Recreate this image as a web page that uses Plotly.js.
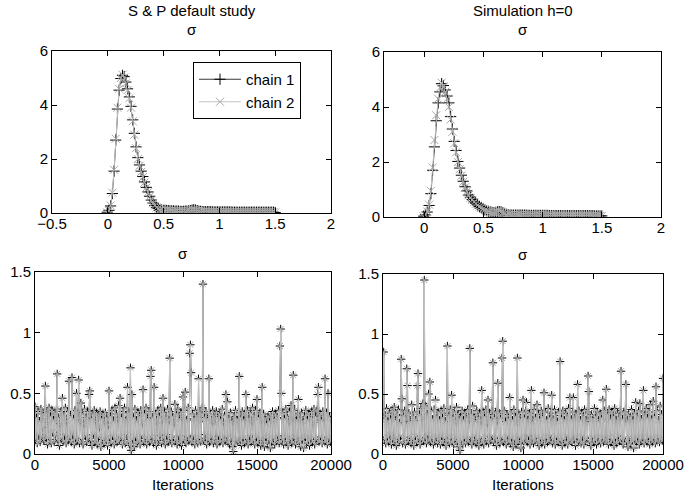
<!DOCTYPE html>
<html>
<head>
<meta charset="utf-8">
<script src="https://cdn.plot.ly/plotly-3.0.1.min.js"></script>
<style>html,body{margin:0;padding:0;background:#fff}#chart{width:684px;height:498px}</style>
</head>
<body>
<div id="chart"></div>
<script>
// ---------- data ----------
const panelTitles = ["S & P default study", "Simulation h=0"];
const paramName = "σ";
const chainNames = ["chain 1", "chain 2"];
const xAxisLabel = "Iterations";

// kernel density evaluation grid (σ values)
const densityGrid = [
 -0.005,0.010,0.025,0.041,0.056,0.071,0.086,0.101,0.117,0.132,
 0.147,0.162,0.177,0.193,0.208,0.223,0.238,0.253,0.269,0.284,
 0.299,0.314,0.329,0.345,0.360,0.375,0.390,0.405,0.421,0.436,
 0.451,0.466,0.481,0.497,0.512,0.527,0.542,0.557,0.573,0.588,
 0.603,0.618,0.633,0.649,0.664,0.679,0.694,0.709,0.725,0.740,
 0.755,0.770,0.785,0.801,0.816,0.831,0.846,0.861,0.877,0.892,
 0.907,0.922,0.937,0.953,0.968,0.983,0.998,1.013,1.029,1.044,
 1.059,1.074,1.089,1.105,1.120,1.135,1.150,1.165,1.181,1.196,
 1.211,1.226,1.241,1.257,1.272,1.287,1.302,1.317,1.333,1.348,
 1.363,1.378,1.393,1.409,1.424,1.439,1.454,1.469,1.485,1.500
];

const spDensityChain1 = [
 0.03,0.10,0.26,0.72,1.55,2.70,3.85,4.55,4.98,5.10,
 5.05,4.85,4.60,4.30,3.95,3.45,2.95,2.45,2.05,1.78,
 1.55,1.35,1.15,0.95,0.78,0.62,0.48,0.37,0.28,0.21,
 0.16,0.13,0.11,0.10,0.10,0.09,0.09,0.08,0.08,0.08,
 0.07,0.07,0.07,0.06,0.06,0.06,0.07,0.07,0.08,0.09,
 0.11,0.12,0.11,0.09,0.07,0.06,0.05,0.05,0.05,0.05,
 0.05,0.05,0.04,0.04,0.04,0.04,0.04,0.04,0.04,0.04,
 0.04,0.04,0.04,0.04,0.03,0.03,0.03,0.03,0.03,0.03,
 0.03,0.03,0.03,0.03,0.03,0.03,0.03,0.03,0.03,0.03,
 0.03,0.03,0.03,0.03,0.03,0.03,0.03,0.03,0.03,0.02
];
const spDensityChain2 = [
 0.02,0.09,0.28,0.75,1.60,2.75,3.90,4.60,5.00,5.12,
 5.02,4.80,4.55,4.25,3.90,3.40,2.90,2.40,2.00,1.75,
 1.52,1.33,1.13,0.94,0.77,0.61,0.47,0.36,0.27,0.20,
 0.15,0.12,0.11,0.10,0.09,0.09,0.08,0.08,0.08,0.07,
 0.07,0.07,0.06,0.06,0.06,0.06,0.06,0.07,0.08,0.09,
 0.10,0.11,0.10,0.08,0.07,0.06,0.05,0.05,0.05,0.04,
 0.04,0.04,0.04,0.04,0.04,0.04,0.04,0.04,0.04,0.04,
 0.04,0.04,0.04,0.03,0.03,0.03,0.03,0.03,0.03,0.03,
 0.03,0.03,0.03,0.03,0.03,0.03,0.03,0.03,0.03,0.03,
 0.03,0.03,0.03,0.03,0.03,0.03,0.03,0.03,0.03,0.02
];
const simDensityChain1 = [
 0.03,0.08,0.18,0.42,0.85,1.70,2.55,3.50,4.15,4.55,
 4.85,4.78,4.62,4.40,4.15,3.65,3.20,2.75,2.42,2.02,
 1.78,1.52,1.30,1.10,0.95,0.80,0.72,0.64,0.55,0.50,
 0.44,0.38,0.34,0.30,0.26,0.23,0.21,0.19,0.17,0.16,
 0.17,0.19,0.20,0.19,0.16,0.13,0.10,0.08,0.07,0.07,
 0.07,0.07,0.07,0.07,0.07,0.07,0.07,0.07,0.06,0.06,
 0.06,0.06,0.06,0.06,0.06,0.06,0.06,0.06,0.06,0.06,
 0.05,0.05,0.05,0.05,0.05,0.05,0.05,0.05,0.05,0.05,
 0.05,0.05,0.05,0.05,0.05,0.05,0.05,0.05,0.05,0.05,
 0.05,0.05,0.05,0.05,0.05,0.04,0.04,0.04,0.04,0.04
];
const simDensityChain2 = [
 0.02,0.07,0.20,0.45,0.95,1.80,2.80,3.70,4.30,4.70,
 4.88,4.75,4.55,4.30,4.00,3.55,3.10,2.68,2.35,2.00,
 1.74,1.50,1.28,1.08,0.93,0.79,0.70,0.62,0.54,0.48,
 0.42,0.37,0.33,0.29,0.25,0.22,0.20,0.18,0.17,0.17,
 0.18,0.20,0.21,0.19,0.15,0.12,0.09,0.08,0.07,0.07,
 0.07,0.07,0.07,0.07,0.07,0.07,0.06,0.06,0.06,0.06,
 0.06,0.06,0.06,0.06,0.06,0.06,0.06,0.06,0.06,0.06,
 0.06,0.05,0.05,0.05,0.05,0.05,0.05,0.05,0.05,0.05,
 0.05,0.05,0.05,0.05,0.05,0.05,0.05,0.05,0.05,0.05,
 0.05,0.05,0.05,0.05,0.04,0.04,0.04,0.04,0.04,0.04
];

// MCMC trace of σ, one value every 50 iterations (0 .. 20000)
const iterationStep = 50;
const spTraceChain1 = [
 0.39,0.12,0.30,0.09,0.35,0.16,0.27,0.10,0.37,0.14,0.22,0.33,0.11,0.29,0.56,0.13,0.34,0.08,0.26,0.38,
 0.12,0.31,0.09,0.36,0.18,0.28,0.10,0.33,0.15,0.37,0.66,0.11,0.30,0.07,0.25,0.35,0.13,0.46,0.10,0.32,
 0.16,0.38,0.09,0.27,0.35,0.12,0.60,0.14,0.31,0.10,0.63,0.17,0.29,0.08,0.36,0.13,0.50,0.11,0.34,0.61,
 0.09,0.28,0.42,0.12,0.33,0.08,0.25,0.37,0.15,0.30,0.10,0.35,0.13,0.49,0.52,0.11,0.29,0.07,0.33,0.16,
 0.36,0.10,0.27,0.34,0.08,0.31,0.14,0.22,0.35,0.06,0.29,0.12,0.33,0.09,0.26,0.34,0.11,0.30,0.07,0.24,
 0.52,0.13,0.31,0.09,0.36,0.15,0.27,0.08,0.38,0.12,0.33,0.10,0.29,0.40,0.11,0.46,0.14,0.30,0.08,0.35,
 0.12,0.38,0.09,0.28,0.16,0.55,0.10,0.34,0.07,0.71,0.03,0.49,0.12,0.30,0.06,0.37,0.14,0.27,0.09,0.34,
 0.11,0.31,0.08,0.36,0.15,0.26,0.53,0.10,0.33,0.13,0.38,0.08,0.29,0.12,0.35,0.10,0.64,0.69,0.14,0.30,
 0.09,0.55,0.12,0.33,0.07,0.27,0.36,0.11,0.31,0.15,0.38,0.09,0.28,0.46,0.13,0.34,0.08,0.30,0.16,0.37,
 0.10,0.28,0.79,0.12,0.35,0.09,0.31,0.14,0.26,0.41,0.11,0.33,0.08,0.37,0.15,0.29,0.10,0.34,0.07,0.30,
 0.47,0.12,0.36,0.51,0.09,0.28,0.14,0.38,0.11,0.83,0.90,0.67,0.10,0.33,0.15,0.29,0.08,0.36,0.12,0.31,
 0.09,0.62,0.13,0.34,0.10,0.27,0.38,1.40,0.11,0.30,0.16,0.35,0.08,0.29,0.12,0.62,0.10,0.33,0.14,0.27,
 0.36,0.09,0.31,0.12,0.25,0.35,0.08,0.30,0.15,0.33,0.10,0.28,0.13,0.37,0.09,0.26,0.32,0.11,0.49,0.14,
 0.43,0.10,0.29,0.08,0.34,0.13,0.27,0.06,0.02,0.31,0.09,0.36,0.12,0.28,0.10,0.34,0.64,0.11,0.30,0.07,
 0.35,0.13,0.28,0.09,0.33,0.49,0.12,0.36,0.08,0.29,0.15,0.34,0.10,0.27,0.38,0.11,0.31,0.08,0.36,0.14,
 0.45,0.09,0.30,0.12,0.34,0.07,0.28,0.55,0.11,0.33,0.06,0.29,0.14,0.25,0.09,0.31,0.12,0.27,0.05,0.32,
 0.10,0.35,0.13,0.28,0.08,0.33,0.11,0.30,0.15,0.36,0.09,0.89,1.03,0.50,0.12,0.34,0.08,0.29,0.14,0.37,
 0.10,0.31,0.07,0.27,0.35,0.12,0.40,0.09,0.30,0.65,0.13,0.36,0.08,0.28,0.11,0.33,0.45,0.10,0.29,0.06,
 0.34,0.12,0.27,0.05,0.31,0.14,0.36,0.09,0.28,0.11,0.33,0.07,0.30,0.13,0.35,0.10,0.26,0.37,0.08,0.31,
 0.12,0.36,0.49,0.55,0.10,0.32,0.14,0.28,0.09,0.35,0.12,0.30,0.62,0.11,0.34,0.08,0.50,0.13,0.31,0.10,
 0.29
];
// chain 2 coincides with chain 1 in the picture (+ and × overlap at every peak)
const spTraceChain2 = spTraceChain1;

const simTraceChain1 = [
 0.35,0.85,0.12,0.30,0.09,0.38,0.14,0.27,0.10,0.34,0.16,0.29,0.08,0.36,0.12,0.31,0.39,0.11,0.28,0.07,
 0.33,0.13,0.37,0.10,0.26,0.15,0.79,0.46,0.09,0.32,0.12,0.36,0.08,0.29,0.71,0.57,0.11,0.34,0.14,0.27,
 0.09,0.41,0.12,0.31,0.07,0.35,0.15,0.28,0.10,0.57,0.67,0.13,0.33,0.08,0.38,0.12,0.30,0.42,0.11,1.45,
 0.14,0.40,0.09,0.33,0.16,0.50,0.12,0.60,0.10,0.36,0.13,0.29,0.08,0.37,0.11,0.45,0.14,0.31,0.09,0.35,
 0.12,0.28,0.08,0.36,0.15,0.30,0.10,0.38,0.13,0.27,0.07,0.34,0.90,0.11,0.32,0.09,0.37,0.14,0.49,0.10,
 0.30,0.08,0.35,0.12,0.27,0.39,0.10,0.33,0.06,0.29,0.03,0.31,0.11,0.36,0.08,0.28,0.13,0.34,0.09,0.30,
 0.12,0.37,0.10,0.29,0.88,0.14,0.33,0.08,0.40,0.11,0.31,0.15,0.27,0.09,0.36,0.12,0.30,0.07,0.34,0.13,
 0.28,0.53,0.10,0.35,0.08,0.31,0.14,0.37,0.11,0.26,0.45,0.09,0.33,0.12,0.29,0.15,0.36,0.76,0.10,0.30,
 0.13,0.35,0.07,0.28,0.59,0.11,0.34,0.09,0.30,0.14,0.80,0.94,0.10,0.36,0.12,0.27,0.08,0.33,0.15,0.29,
 0.11,0.47,0.09,0.34,0.13,0.28,0.06,0.37,0.12,0.31,0.08,0.26,0.80,0.10,0.33,0.14,0.29,0.05,0.35,0.11,
 0.45,0.09,0.30,0.13,0.36,0.43,0.10,0.28,0.15,0.34,0.08,0.31,0.53,0.12,0.27,0.09,0.37,0.11,0.30,0.14,
 0.41,0.10,0.33,0.07,0.29,0.13,0.36,0.09,0.31,0.12,0.51,0.08,0.35,0.14,0.28,0.10,0.38,0.11,0.30,0.15,
 0.34,0.49,0.09,0.29,0.12,0.37,0.08,0.32,0.14,0.27,0.10,0.35,0.13,0.77,0.11,0.30,0.07,0.36,0.12,0.28,
 0.09,0.34,0.15,0.31,0.08,0.38,0.11,0.47,0.13,0.29,0.10,0.35,0.47,0.12,0.30,0.07,0.33,0.14,0.58,0.10,
 0.36,0.12,0.28,0.09,0.34,0.15,0.31,0.08,0.37,0.11,0.27,0.13,0.35,0.65,0.52,0.10,0.30,0.07,0.33,0.14,
 0.29,0.10,0.38,0.12,0.31,0.08,0.35,0.14,0.27,0.11,0.34,0.09,0.30,0.13,0.45,0.10,0.36,0.12,0.28,0.54,
 0.11,0.33,0.08,0.37,0.14,0.29,0.10,0.35,0.12,0.31,0.07,0.38,0.13,0.27,0.09,0.34,0.15,0.30,0.11,0.36,
 0.69,0.12,0.29,0.08,0.35,0.13,0.31,0.58,0.10,0.27,0.06,0.33,0.14,0.30,0.09,0.37,0.11,0.28,0.05,0.34,
 0.12,0.43,0.10,0.31,0.14,0.36,0.08,0.42,0.11,0.29,0.13,0.35,0.53,0.09,0.32,0.12,0.38,0.10,0.30,0.14,
 0.35,0.08,0.41,0.12,0.29,0.10,0.44,0.13,0.31,0.09,0.56,0.11,0.36,0.14,0.28,0.10,0.40,0.12,0.33,0.11,
 0.63
];
const simTraceChain2 = simTraceChain1;

// ---------- styling ----------
const FONT = "Liberation Sans, Arial, Helvetica, sans-serif";
const FS = 15;
const c1Line = "#3a3a3a", c1Mark = "#000000";
const c2Line = "#c4c4c4", c2Mark = "#a8a8a8";

function chainTraces(x, y1, y2, xa, ya, legend, msize) {
  return [
    {x: x, y: y1, xaxis: xa, yaxis: ya, name: chainNames[0], showlegend: legend,
     mode: "lines+markers", line: {color: c1Line, width: 1},
     marker: {symbol: "cross-thin-open", size: msize, color: c1Mark, line: {color: c1Mark, width: 1}}},
    {x: x, y: y2, xaxis: xa, yaxis: ya, name: chainNames[1], showlegend: legend,
     mode: "lines+markers", line: {color: c2Line, width: 1},
     marker: {symbol: "x-thin-open", size: msize, color: c2Mark, line: {color: c2Mark, width: 1}}}
  ];
}
const itersSP = spTraceChain1.map((_, i) => i * iterationStep);
const itersSim = simTraceChain1.map((_, i) => i * iterationStep);

const data = [].concat(
  chainTraces(densityGrid, spDensityChain1, spDensityChain2, "x", "y", true, 8),
  chainTraces(densityGrid, simDensityChain1, simDensityChain2, "x2", "y2", false, 8),
  chainTraces(itersSP, spTraceChain1, spTraceChain2, "x3", "y3", false, 6),
  chainTraces(itersSim, simTraceChain1, simTraceChain2, "x4", "y4", false, 6)
);

const W = 684, H = 498;
const px = v => v / W, py = v => 1 - v / H;
function ax(extra) {
  return Object.assign({
    showline: true, linecolor: "#000", linewidth: 1, mirror: "ticks",
    ticks: "inside", ticklen: 5, tickcolor: "#000", tickwidth: 1,
    showgrid: false, zeroline: false, fixedrange: true,
    tickfont: {family: FONT, size: FS, color: "#000"},
    exponentformat: "none", ticklabeloverflow: "allow"
  }, extra);
}
const xs = {ticklabelstandoff: -3};

const layout = {
  width: W, height: H,
  margin: {l: 0, r: 0, t: 0, b: 0},
  paper_bgcolor: "#fff", plot_bgcolor: "#fff",
  font: {family: FONT, size: FS, color: "#000"},
  xaxis:  ax(Object.assign({domain: [px(52), px(331)], range: [-0.5, 2], dtick: 0.5, tick0: 0, anchor: "y"}, xs)),
  yaxis:  ax({domain: [py(213), py(51)], range: [0, 6], dtick: 2, tick0: 0, anchor: "x"}),
  xaxis2: ax(Object.assign({domain: [px(384), px(661)], range: [-0.34, 2], dtick: 0.5, tick0: 0, anchor: "y2"}, xs)),
  yaxis2: ax({domain: [py(217), py(52)], range: [0, 6], dtick: 2, tick0: 0, anchor: "x2"}),
  xaxis3: ax(Object.assign({domain: [px(35), px(331)], range: [0, 20000], dtick: 5000, tick0: 0, tickformat: "d", anchor: "y3"}, xs)),
  yaxis3: ax({domain: [py(454), py(272)], range: [0, 1.5], dtick: 0.5, tick0: 0, anchor: "x3"}),
  xaxis4: ax(Object.assign({domain: [px(383), px(663)], range: [0, 20000], dtick: 5000, tick0: 0, tickformat: "d", anchor: "y4"}, xs)),
  yaxis4: ax({domain: [py(454), py(274)], range: [0, 1.5], dtick: 0.5, tick0: 0, anchor: "x4"}),
  showlegend: true,
  legend: {x: px(193), y: py(62), xanchor: "left", yanchor: "top",
           bgcolor: "#fff", bordercolor: "#000", borderwidth: 1, itemwidth: 42,
           font: {family: FONT, size: FS, color: "#000"}, tracegroupgap: 0},
  annotations: [
    {text: panelTitles[0], x: px(191.5), y: py(10), xref: "paper", yref: "paper", showarrow: false, xanchor: "center", yanchor: "middle", font: {family: FONT, size: FS}},
    {text: paramName, x: px(191.5), y: py(30), xref: "paper", yref: "paper", showarrow: false, xanchor: "center", yanchor: "middle", font: {family: FONT, size: FS}},
    {text: panelTitles[1], x: px(522.5), y: py(10), xref: "paper", yref: "paper", showarrow: false, xanchor: "center", yanchor: "middle", font: {family: FONT, size: FS}},
    {text: paramName, x: px(522.5), y: py(30), xref: "paper", yref: "paper", showarrow: false, xanchor: "center", yanchor: "middle", font: {family: FONT, size: FS}},
    {text: paramName, x: px(183), y: py(253), xref: "paper", yref: "paper", showarrow: false, xanchor: "center", yanchor: "middle", font: {family: FONT, size: FS}},
    {text: paramName, x: px(523), y: py(254), xref: "paper", yref: "paper", showarrow: false, xanchor: "center", yanchor: "middle", font: {family: FONT, size: FS}},
    {text: xAxisLabel, x: px(183), y: py(484), xref: "paper", yref: "paper", showarrow: false, xanchor: "center", yanchor: "middle", font: {family: FONT, size: FS}},
    {text: xAxisLabel, x: px(523), y: py(484), xref: "paper", yref: "paper", showarrow: false, xanchor: "center", yanchor: "middle", font: {family: FONT, size: FS}}
  ]
};

Plotly.newPlot("chart", data, layout, {staticPlot: true, displayModeBar: false});
</script>
</body>
</html>
